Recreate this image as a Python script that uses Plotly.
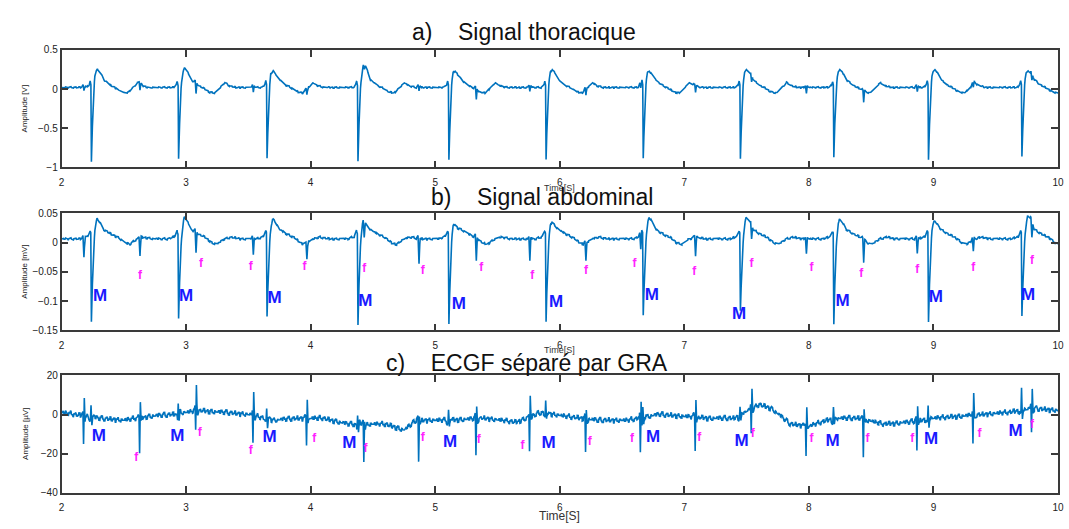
import numpy as np
import plotly.graph_objects as go

# ---------------- data ----------------
x_ticks = [2, 3, 4, 5, 6, 7, 8, 9, 10]

# maternal beat times (s) at the S-spike minimum
maternal_t = [2.24, 2.94, 3.65, 4.38, 5.11, 5.89, 6.67, 7.45, 8.20, 8.96, 9.71]
# fetal beat times (s)
fetal_t = [2.18, 2.63, 3.08, 3.54, 3.97, 4.43, 4.87, 5.33, 5.76, 6.21, 6.65,
           7.09, 7.54, 7.98, 8.44, 8.87, 9.32, 9.79]

# panel a : thoracic signal (V)
a_base = 0.02
a_depth = [-0.93, -0.88, -0.88, -0.92, -0.91, -0.90, -0.89, -0.90, -0.875, -0.90, -0.86]
a_peak = [0.25, 0.27, 0.23, 0.30, 0.23, 0.25, 0.23, 0.25, 0.25, 0.25, 0.23]
a_fetal = [-0.03, -0.07, -0.12, -0.06, -0.06, -0.05, -0.04, -0.12, -0.05, -0.07,
           -0.03, -0.07, -0.06, -0.08, -0.13, -0.06, -0.05, -0.06]
a_m_off = [-0.08, -0.04, -0.02, -0.01, -0.004, 0.0, 0.015, 0.03, 0.048, 0.07, 0.10,
           0.15, 0.20, 0.25, 0.29, 0.33, 0.37, 0.41, 0.46]
a_m_val = [0.0, 0.0, 0.03, 0.08, 0.03, "D", -0.10, 0.18, "P", "P-", 0.10,
           0.03, -0.01, -0.06, -0.07, -0.01, 0.06, 0.02, 0.0]
a_f_off = [-0.02, -0.007, 0.0, 0.007, 0.02]
a_f_val = [0.0, 0.03, "F", 0.02, 0.0]

# panel b : abdominal signal (mV)
b_base = 0.006
b_depth = [-0.135, -0.128, -0.125, -0.14, -0.14, -0.135, -0.125, -0.118, -0.14, -0.135, -0.125]
b_peak = [0.040, 0.043, 0.040, 0.035, 0.031, 0.035, 0.043, 0.043, 0.040, 0.037, 0.045]
b_fetal = [-0.025, -0.023, -0.028, -0.021, -0.02, -0.02, -0.036, -0.033, -0.031, -0.023,
           -0.02, -0.025, -0.015, -0.02, -0.031, -0.02, -0.016, -0.02]
b_m_off = [-0.08, -0.03, -0.012, -0.005, 0.0, 0.014, 0.03, 0.045, 0.07, 0.10, 0.16,
           0.22, 0.27, 0.31, 0.36, 0.42, 0.50]
b_m_val = [0.0, 0.004, 0.014, 0.01, "D", -0.03, 0.02, "P", "P-", 0.016, 0.008,
           0.002, -0.007, -0.009, -0.001, 0.003, 0.0]
b_f_off = [-0.02, -0.008, 0.0, 0.008, 0.02]
b_f_val = [0.0, 0.004, "F", 0.002, 0.0]

# panel c : separated fetal ECG (uV)
c_base_t = [2.0, 2.1, 2.3, 2.5, 2.7, 2.9, 3.1, 3.3, 3.5, 3.7, 3.9, 4.1, 4.3, 4.6, 4.75,
            4.85, 5.1, 5.4, 5.65, 5.85, 6.05, 6.3, 6.55, 6.8, 7.0, 7.2, 7.4, 7.6, 7.7,
            7.85, 8.0, 8.2, 8.4, 8.6, 8.8, 9.0, 9.2, 9.4, 9.6, 9.8, 10.0]
c_base_v = [1, 0, -2, -3, -1, 0, 2, 1, 0, -3, -2, -2, -5, -5, -8,
            -3, -3, -2, -4, 1, -1, -3, -3, 0, -1, -2, -2, 5, 3,
            -5, -6, -2, -2, -5, -4, -2, -1, 0, 1, 3, 2]
c_m_up = [5.5, 6.5, 4, 5, 5, 6.5, 6, 4, 5.5, 6, 10.5]
c_f_down = [-15, -17.5, -11, -15, -13.5, -20, -22, -20, -17.5, -18, -18.5, -17,
            -13.5, -14.5, -18, -16, -15, -13]
c_f_up = [10.5, 8, 13.5, 12, 10.5, 2.5, 2.5, 6.5, 10, 5, 10, 10, 10, 9, 5, 8, 10, 10]
c_m_off = [-0.025, -0.008, -0.003, 0.004, 0.012, 0.03]
c_m_val = [0.0, -2.0, "U", -4.0, 1.0, 0.0]
c_f_off = [-0.025, -0.008, -0.003, 0.003, 0.009, 0.025]
c_f_val = [0.0, 1.5, "D", "U", -1.5, 0.0]

# small jagged ripple (relative units)
ripple_pattern = [0, 0.4, -0.2, 0.6, 0.1, -0.5, 0.3, 0.8, -0.1, -0.6, 0.2, 0.5, -0.3,
                  0.0, 0.7, -0.4, 0.1, 0.4, -0.7, 0.2, 0.6, -0.2, -0.5, 0.3, 0.0]
ripple_scale = {"a": 0.014, "b": 0.0025, "c": 1.8}

# annotation markers
b_M_t = [2.31, 3.00, 3.71, 4.44, 5.19, 5.97, 6.74, 7.44, 8.27, 9.02, 9.76]
b_M_v = [-0.092, -0.092, -0.096, -0.101, -0.106, -0.103, -0.091, -0.123, -0.101, -0.094, -0.091]
b_f_t = [2.63, 3.12, 3.52, 3.95, 4.43, 4.90, 5.37, 5.78, 6.21, 6.60, 7.08, 7.54, 8.02,
         8.42, 8.87, 9.32, 9.79]
b_f_v = [-0.057, -0.036, -0.042, -0.042, -0.045, -0.048, -0.043, -0.057, -0.048, -0.036,
         -0.05, -0.036, -0.043, -0.053, -0.047, -0.043, -0.031]
c_M_t = [2.30, 2.93, 3.67, 4.31, 5.12, 5.91, 6.75, 7.46, 8.19, 8.98, 9.66]
c_M_v = [-11.5, -11.5, -12, -15, -14.5, -15, -12, -14, -14, -13, -9]
c_f_t = [2.60, 3.11, 3.52, 4.03, 4.44, 4.90, 5.35, 5.70, 6.24, 6.58, 7.12, 7.55, 8.02,
         8.47, 8.83, 9.37, 9.79]
c_f_v = [-22, -9.5, -18.5, -12.5, -17.5, -12, -13, -16, -14, -12.5, -12, -10, -12.5,
         -12.5, -12.5, -10, -5.5]

titles = ["a)\u00a0\u00a0\u00a0\u00a0Signal thoracique",
          "b)\u00a0\u00a0\u00a0\u00a0Signal abdominal",
          "c)\u00a0\u00a0\u00a0\u00a0ECGF séparé par GRA"]
y_titles = ["Amplitude [V]", "Amplitude [mV]", "Amplitude [µV]"]
x_title = "Time[S]"

# ---------------- build the traces ----------------
def fill(vals, subs):
    return [subs[v] if isinstance(v, str) else v for v in vals]

key_times = []
for t0 in maternal_t:
    key_times += [t0 + o for o in a_m_off + b_m_off + c_m_off]
for t0 in fetal_t:
    key_times += [t0 + o for o in a_f_off + b_f_off + c_f_off]
t = np.union1d(np.arange(2.0, 10.0 + 1e-9, 0.004),
               [k for k in key_times if 2.0 <= k <= 10.0])

rip_idx = (np.floor((t - 2.0) / 0.01).astype(int)) % len(ripple_pattern)
ripple = np.array(ripple_pattern)[rip_idx]


def beat(off, vals, t0):
    return np.interp(t, t0 + np.array(off), np.array(vals, dtype=float), left=0, right=0)


sig_a = np.full_like(t, a_base) + ripple * ripple_scale["a"]
for k, t0 in enumerate(maternal_t):
    d = a_depth[k] - a_base
    p = a_peak[k] - a_base
    sig_a += beat(a_m_off, fill(a_m_val, {"D": d, "P": p, "P-": p - 0.04}), t0)
for k, t0 in enumerate(fetal_t):
    sig_a += beat(a_f_off, fill(a_f_val, {"F": a_fetal[k]}), t0)

sig_b = np.full_like(t, b_base) + ripple * ripple_scale["b"]
for k, t0 in enumerate(maternal_t):
    d = b_depth[k] - b_base
    p = b_peak[k] - b_base
    sig_b += beat(b_m_off, fill(b_m_val, {"D": d, "P": p, "P-": p - 0.006}), t0)
for k, t0 in enumerate(fetal_t):
    sig_b += beat(b_f_off, fill(b_f_val, {"F": b_fetal[k] - b_base}), t0)

sig_c = np.interp(t, c_base_t, c_base_v) + ripple * ripple_scale["c"]
for k, t0 in enumerate(maternal_t):
    sig_c += beat(c_m_off, fill(c_m_val, {"U": c_m_up[k]}), t0)
for k, t0 in enumerate(fetal_t):
    sig_c += beat(c_f_off, fill(c_f_val, {"D": c_f_down[k], "U": c_f_up[k]}), t0)

# ---------------- figure ----------------
W, H = 1069, 529
FONT = "Liberation Sans, Arial, sans-serif"
LINE = "#0072BD"
AX = "#3a3a3a"

x_dom = [59 / W, 1064 / W]
panels = [  # (top px, bottom px, yrange, dtick)
    (45, 165, [-1, 0.5], 0.5),
    (212, 332, [-0.15, 0.05], 0.05),
    (378, 498, [-40, 20], 20),
]

fig = go.Figure()
sigs = [sig_a, sig_b, sig_c]
for i, s in enumerate(sigs):
    sfx = "" if i == 0 else str(i + 1)
    fig.add_trace(go.Scatter(x=t, y=s, mode="lines", line=dict(color=LINE, width=1.6),
                             xaxis="x" + sfx, yaxis="y" + sfx, showlegend=False,
                             hoverinfo="skip"))

M_font = dict(family=FONT, size=17, color="#1a1aff")
f_font = dict(family=FONT, size=12, color="#ff22ff")
for (mt, mv, ft, fv, sfx) in [(b_M_t, b_M_v, b_f_t, b_f_v, "2"), (c_M_t, c_M_v, c_f_t, c_f_v, "3")]:
    fig.add_trace(go.Scatter(x=mt, y=mv, mode="text", text=["<b>M</b>"] * len(mt),
                             textfont=M_font, xaxis="x" + sfx, yaxis="y" + sfx,
                             showlegend=False, hoverinfo="skip"))
    fig.add_trace(go.Scatter(x=ft, y=fv, mode="text", text=["<b>f</b>"] * len(ft),
                             textfont=f_font, xaxis="x" + sfx, yaxis="y" + sfx,
                             showlegend=False, hoverinfo="skip"))

layout = dict(width=W, height=H, margin=dict(l=0, r=0, t=0, b=0),
              paper_bgcolor="white", plot_bgcolor="white",
              font=dict(family=FONT, color="#222"))
annotations = []
title_pos = [(525, 27), (544, 195), (528, 365)]
xt_pos = [186, 352, 522]
xt_size = [9, 9, 12]
for i, (top, bot, yr, dt) in enumerate(panels):
    sfx = "" if i == 0 else str(i + 1)
    ydom = [(H - bot) / H, (H - top) / H]
    axcommon = dict(showline=True, linecolor=AX, linewidth=1.5, mirror="ticks",
                    ticks="inside", ticklen=7, tickwidth=1.5, tickcolor=AX,
                    showgrid=False, zeroline=False, ticklabeloverflow="allow",
                    tickfont=dict(family=FONT, size=10, color="#222"))
    layout["xaxis" + sfx] = dict(domain=x_dom, range=[2, 10], tickvals=x_ticks,
                                 anchor="y" + sfx, ticklabelstandoff=5, **axcommon)
    layout["yaxis" + sfx] = dict(domain=ydom, range=yr, dtick=dt, tick0=0,
                                 anchor="x" + sfx, **axcommon)
    annotations.append(dict(text=x_title, x=561 / W, y=(H - xt_pos[i]) / H, xref="paper",
                            yref="paper", showarrow=False, xanchor="center",
                            yanchor="middle", font=dict(family=FONT, size=xt_size[i], color="#333")))
    tx, ty = title_pos[i]
    annotations.append(dict(text=titles[i], x=tx / W, y=(H - ty) / H, xref="paper",
                            yref="paper", showarrow=False, xanchor="center",
                            yanchor="middle", font=dict(family=FONT, size=23, color="#111")))
    annotations.append(dict(text=y_titles[i], x=22 / W, y=(H - (top + bot) / 2) / H,
                            xref="paper", yref="paper", showarrow=False, textangle=-90,
                            xanchor="center", yanchor="middle",
                            font=dict(family=FONT, size=8, color="#222")))
layout["annotations"] = annotations
fig.update_layout(**layout)
fig.write_html("out.html")
